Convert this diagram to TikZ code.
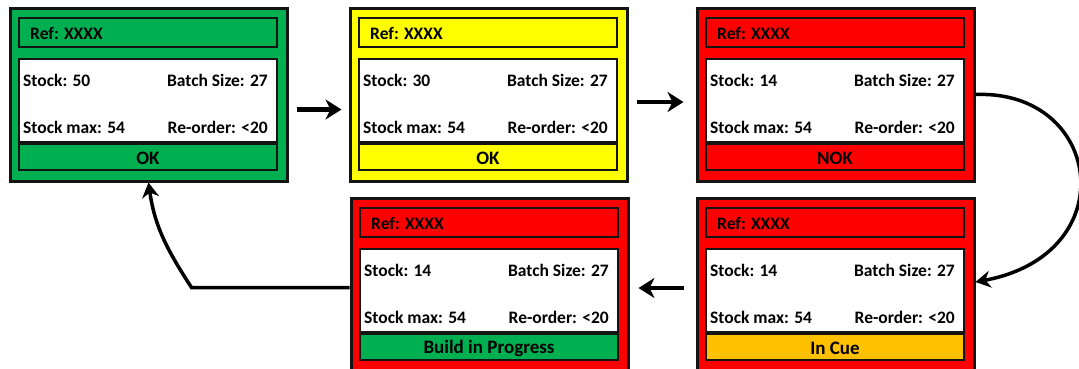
\documentclass[tikz,border=0pt]{standalone}
\usepackage{fontspec}
\newfontfamily\cf{Carlito}
\usetikzlibrary{arrows.meta}
\definecolor{cgreen}{RGB}{0,176,80}
\definecolor{cyellow}{RGB}{255,255,0}
\definecolor{cred}{RGB}{255,0,0}
\definecolor{corange}{RGB}{255,192,0}
\definecolor{cline}{RGB}{20,20,20}
\tikzset{
  cardout/.style={draw=cline, line width=3pt, minimum width=277pt, minimum height=173pt, inner sep=0pt},
  bar/.style={draw=cline, line width=2pt, minimum width=258pt, inner sep=0pt},
  txt/.style={inner sep=0pt, font=\cf\bfseries\fontsize{17.5}{20}\selectfont, text=black},
  stattxt/.style={inner sep=0pt, font=\cf\bfseries\fontsize{19}{22}\selectfont, text=black},
  flow/.style={line width=4.5pt, -{Stealth[length=16pt,width=20pt,inset=5pt]}},
  loopline/.style={line width=3.5pt, -{Stealth[length=15pt,width=17pt,inset=5pt]}}
}
\newcommand{\mycard}[8]{%
  \begin{scope}[shift={(#2,#3)}]
    \node[cardout, fill=#4] (#1) at (138.5,86.5) {};
    \node[bar, fill=#5, minimum height=29pt] (#1-h) at (138,24.5) {};
    \node[bar, fill=white, minimum height=83pt] (#1-b) at (138,92.5) {};
    \node[bar, fill=#6, minimum height=26pt] (#1-s) at (138,149) {};
    \node[txt, anchor=west] (#1-ref) at (20,25) {Ref: XXXX};
    \node[txt, anchor=west] (#1-st) at (13,72) {Stock: #7};
    \node[txt, anchor=east] (#1-bs) at (258,72) {Batch Size: 27};
    \node[txt, anchor=west] (#1-sm) at (13,119) {Stock max: 54};
    \node[txt, anchor=east] (#1-ro) at (258,119) {Re-order: <20};
    \node[stattxt] (#1-stat) at (138,150) {#8};
  \end{scope}}
\begin{document}
\begin{tikzpicture}[x=1pt,y=-1pt]
\useasboundingbox (0,0) rectangle (1079,368);
\mycard{c1}{10}{8}{cgreen}{cgreen}{cgreen}{50}{OK}
\mycard{c2}{350}{8}{cyellow}{cyellow}{cyellow}{30}{OK}
\mycard{c3}{697}{8}{cred}{cred}{cred}{14}{NOK}
\mycard{c4}{351}{198}{cred}{cred}{cgreen}{14}{Build in Progress}
\mycard{c5}{697}{198}{cred}{cred}{corange}{14}{In Cue}
\draw[flow, shorten <=8pt, shorten >=7pt] ([yshift=-15pt]c1.east) -- ([yshift=-15pt]c2.west);
\draw[flow, shorten <=8pt, shorten >=12pt] ([yshift=-7.5pt]c2.east) -- ([yshift=-7.5pt]c3.west);
\draw[flow, shorten <=12pt, shorten >=9pt] ([yshift=-3.5pt]c5.west) -- ([yshift=-3.5pt]c4.east);
\draw[loopline] (c3.east) .. controls +(127,-5) and +(150,-28) .. ([yshift=2.5pt]c5.east);
\draw[loopline] ([yshift=-3pt]c4.west) -- ([xshift=-158pt,yshift=-3pt]c4.west) to[out=123,in=-82] (c1.south);
\end{tikzpicture}
\end{document}
